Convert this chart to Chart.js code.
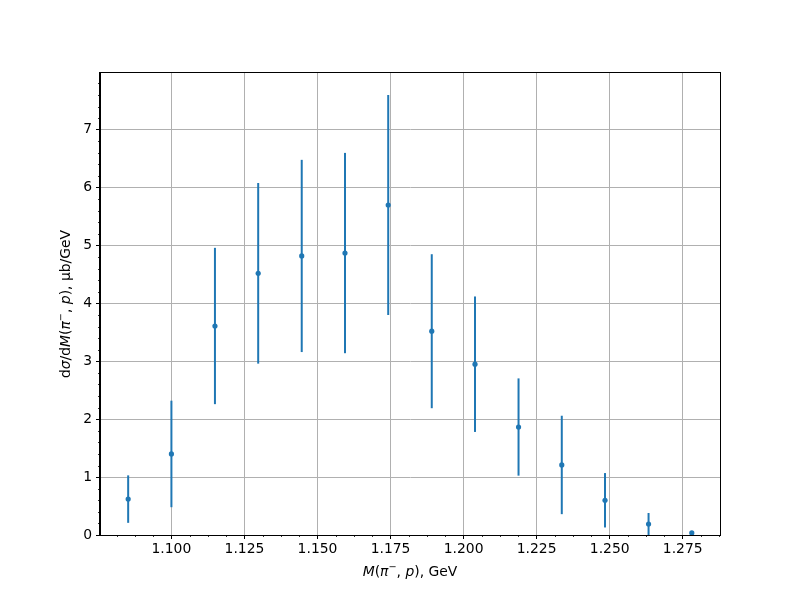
<!DOCTYPE html>
<html>
<head>
<meta charset="utf-8">
<script src="https://cdn.jsdelivr.net/npm/chart.js@4/dist/chart.umd.min.js"></script>
<style>
html,body{margin:0;padding:0;background:#fff;}
#wrap{width:800px;height:600px;}
</style>
</head>
<body>
<div id="wrap"><canvas id="c" width="800" height="600"></canvas></div>
<script>
// Data
const massGeV = [1.0852, 1.1000, 1.1149, 1.1297, 1.1446, 1.1594, 1.1742, 1.1891, 1.2039, 1.2188, 1.2336, 1.2484, 1.2633, 1.2781];
const xsecValues = [0.62, 1.40, 3.61, 4.52, 4.82, 4.87, 5.70, 3.52, 2.95, 1.865, 1.21, 0.60, 0.19, 0.035];
const xsecErrors = [0.41, 0.92, 1.35, 1.56, 1.66, 1.73, 1.90, 1.33, 1.17, 0.84, 0.85, 0.47, 0.19, 0.02];
const xTickValues = [1.100, 1.125, 1.150, 1.175, 1.200, 1.225, 1.250, 1.275];
const yTickValues = [0, 1, 2, 3, 4, 5, 6, 7];

const FONT = 'DejaVu Sans';
const FS = 13.9;
const BLUE = '#1f77b4';

const errorBarPlugin = {
  id: 'errorBars',
  beforeDatasetsDraw(chart) {
    const {ctx, chartArea, scales} = chart;
    ctx.save();
    ctx.beginPath();
    ctx.rect(chartArea.left, chartArea.top, chartArea.right - chartArea.left, chartArea.bottom - chartArea.top);
    ctx.clip();
    ctx.strokeStyle = BLUE;
    ctx.lineWidth = 2;
    for (let i = 0; i < massGeV.length; i++) {
      const px = scales.x.getPixelForValue(massGeV[i]);
      const y1 = scales.y.getPixelForValue(xsecValues[i] + xsecErrors[i]);
      const y2 = scales.y.getPixelForValue(xsecValues[i] - xsecErrors[i]);
      ctx.beginPath();
      ctx.moveTo(px, y1);
      ctx.lineTo(px, y2);
      ctx.stroke();
    }
    ctx.restore();
  }
};

function drawRich(ctx, segs, size) {
  let total = 0;
  const widths = segs.map(s => {
    const sz = s.sup ? size * 0.7 : size;
    ctx.font = (s.it ? 'italic ' : '') + sz + 'px "' + FONT + '"';
    const w = ctx.measureText(s.t).width;
    total += w;
    return w;
  });
  let x = -total / 2;
  segs.forEach((s, i) => {
    const sz = s.sup ? size * 0.7 : size;
    ctx.font = (s.it ? 'italic ' : '') + sz + 'px "' + FONT + '"';
    ctx.fillText(s.t, x, s.sup ? -size * 0.42 : 0);
    x += widths[i];
  });
}

const decorPlugin = {
  id: 'decor',
  afterDraw(chart) {
    const {ctx, chartArea, scales} = chart;
    const xs = scales.x, ys = scales.y;
    ctx.save();
    ctx.strokeStyle = '#000';
    ctx.lineWidth = 0.8;
    for (let k = -5; k <= 30; k++) {
      const v = 1.1 + k * 0.00625;
      if (k % 4 === 0) continue;
      if (v < xs.min || v > xs.max) continue;
      const px = Math.round(xs.getPixelForValue(v)) + 0.5;
      ctx.beginPath();
      ctx.moveTo(px, chartArea.bottom);
      ctx.lineTo(px, chartArea.bottom + 2);
      ctx.stroke();
    }
    for (let k = 0; k <= 40; k++) {
      if (k % 5 === 0) continue;
      const v = k * 0.2;
      if (v > ys.max) continue;
      const py = Math.round(ys.getPixelForValue(v)) + 0.5;
      ctx.beginPath();
      ctx.moveTo(chartArea.left, py);
      ctx.lineTo(chartArea.left - 2, py);
      ctx.stroke();
    }
    ctx.lineWidth = 1;
    ctx.strokeRect(chartArea.left - 0.5, chartArea.top - 0.5, chartArea.right - chartArea.left + 1, chartArea.bottom - chartArea.top + 1);
    ctx.fillStyle = '#000';
    ctx.textBaseline = 'alphabetic';
    ctx.textAlign = 'left';
    ctx.save();
    ctx.translate((chartArea.left + chartArea.right) / 2, 576);
    drawRich(ctx, [
      {t: 'M', it: true}, {t: '(', it: false}, {t: 'π', it: true}, {t: '−', sup: true},
      {t: ', ', it: false}, {t: 'p', it: true}, {t: '), GeV', it: false}
    ], FS);
    ctx.restore();
    ctx.save();
    ctx.translate(70, (chartArea.top + chartArea.bottom) / 2);
    ctx.rotate(-Math.PI / 2);
    drawRich(ctx, [
      {t: 'd', it: false}, {t: 'σ', it: true}, {t: '/d', it: false}, {t: 'M', it: true},
      {t: '(', it: false}, {t: 'π', it: true}, {t: '−', sup: true}, {t: ', ', it: false},
      {t: 'p', it: true}, {t: '), μb/GeV', it: false}
    ], FS);
    ctx.restore();
    ctx.restore();
  }
};

new Chart(document.getElementById('c'), {
  type: 'scatter',
  data: {
    datasets: [{
      data: massGeV.map((x, i) => ({x: x, y: xsecValues[i]})),
      backgroundColor: BLUE,
      borderColor: BLUE,
      pointRadius: 2.6,
      pointBorderWidth: 0,
      showLine: false
    }]
  },
  options: {
    responsive: false,
    animation: false,
    devicePixelRatio: 1,
    layout: {padding: {top: 73, right: 80, left: 0, bottom: 0}},
    plugins: {legend: {display: false}, tooltip: {enabled: false}},
    scales: {
      x: {
        type: 'linear',
        min: 1.07556,
        max: 1.28775,
        afterBuildTicks: s => { s.ticks = xTickValues.map(v => ({value: v})); },
        afterFit: s => { s.height = 65; },
        ticks: {
          callback: v => Number(v).toFixed(3),
          font: {family: FONT, size: FS},
          color: '#000',
          padding: 2,
          maxRotation: 0,
          autoSkip: false
        },
        grid: {color: '#b0b0b0', lineWidth: 1, tickColor: '#000', tickLength: 4, tickWidth: 1},
        border: {color: '#000', width: 1}
      },
      y: {
        type: 'linear',
        min: 0,
        max: 7.98,
        afterBuildTicks: s => { s.ticks = yTickValues.map(v => ({value: v})); },
        afterFit: s => { s.width = 100; },
        ticks: {
          callback: v => String(v),
          font: {family: FONT, size: FS},
          color: '#000',
          padding: 4,
          autoSkip: false
        },
        grid: {color: '#b0b0b0', lineWidth: 1, tickColor: '#000', tickLength: 4, tickWidth: 1},
        border: {color: '#000', width: 1}
      }
    }
  },
  plugins: [errorBarPlugin, decorPlugin]
});
</script>
</body>
</html>
